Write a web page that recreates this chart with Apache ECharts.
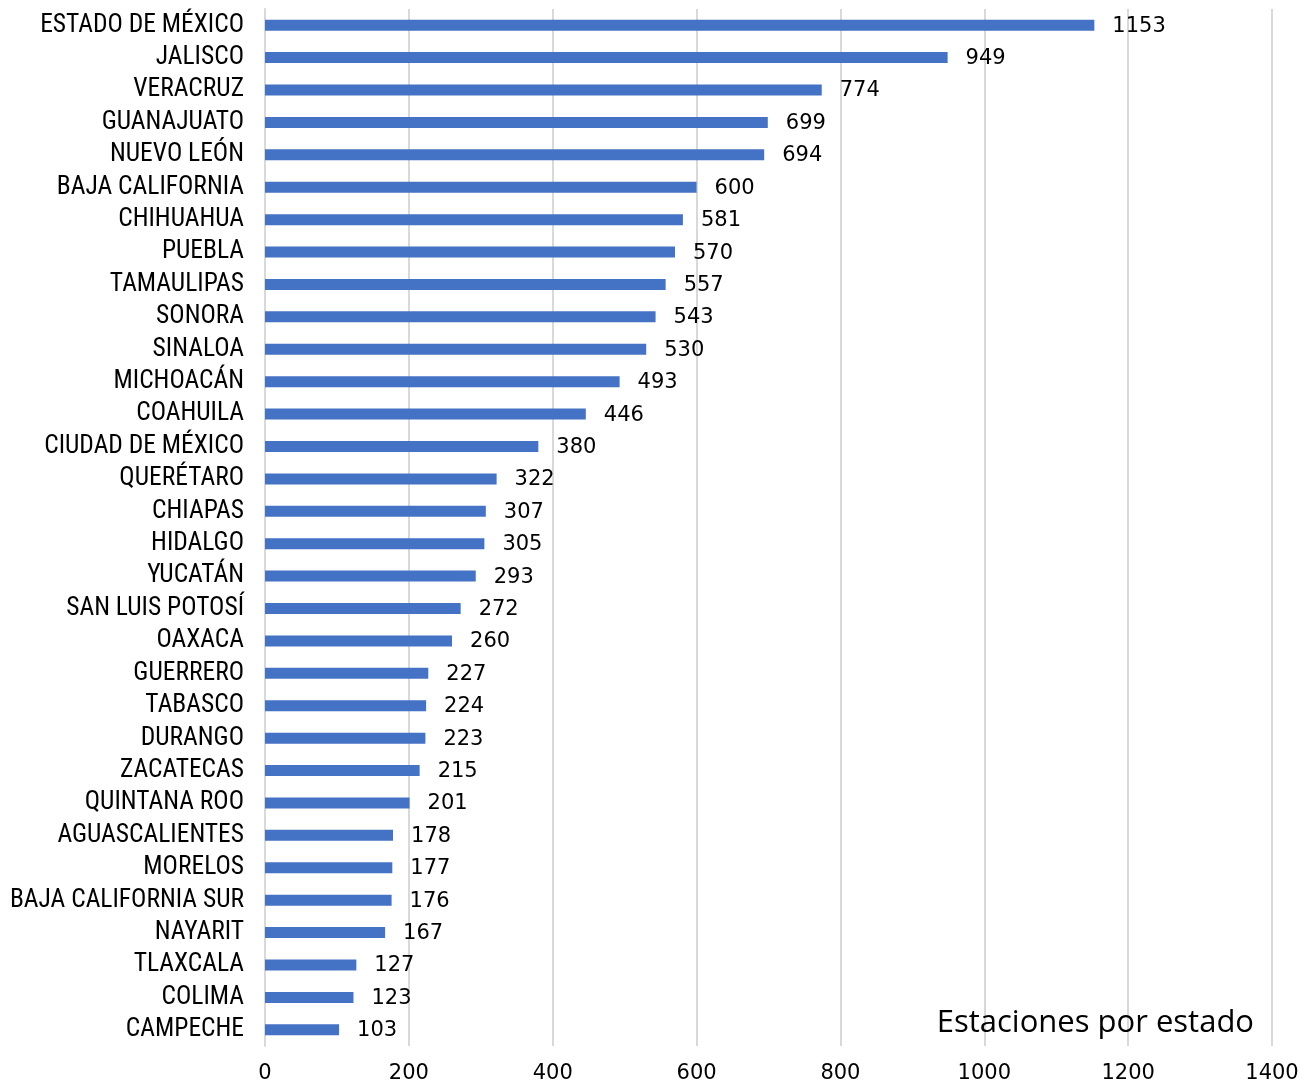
<!DOCTYPE html>
<html><head><meta charset="utf-8">
<script src="https://cdn.jsdelivr.net/npm/echarts@6/dist/echarts.min.js"></script>
<style>html,body{margin:0;padding:0;background:#fff}#c{width:1304px;height:1084px}</style>
</head><body><div id="c"></div>
<script>
const categories = ["ESTADO DE MÉXICO","JALISCO","VERACRUZ","GUANAJUATO","NUEVO LEÓN","BAJA CALIFORNIA","CHIHUAHUA","PUEBLA","TAMAULIPAS","SONORA","SINALOA","MICHOACÁN","COAHUILA","CIUDAD DE MÉXICO","QUERÉTARO","CHIAPAS","HIDALGO","YUCATÁN","SAN LUIS POTOSÍ","OAXACA","GUERRERO","TABASCO","DURANGO","ZACATECAS","QUINTANA ROO","AGUASCALIENTES","MORELOS","BAJA CALIFORNIA SUR","NAYARIT","TLAXCALA","COLIMA","CAMPECHE"];
const values = [1153,949,774,699,694,600,581,570,557,543,530,493,446,380,322,307,305,293,272,260,227,224,223,215,201,178,177,176,167,127,123,103];
const titleText = "Estaciones por estado";
const numFont = "'DejaVu Sans', sans-serif";
const catFont = "'Liberation Sans Narrow', 'Roboto Condensed', serif";
const chart = echarts.init(document.getElementById('c'));
chart.setOption({
  animation:false,
  title:{text:titleText,right:45,bottom:40,textStyle:{fontFamily:"'Open Sans', sans-serif",fontWeight:400,fontSize:31,color:'#000'}},
  grid:{left:265,right:32,top:9,bottom:38,containLabel:false},
  xAxis:{type:'value',min:0,max:1400,interval:200,
    axisLine:{show:false},axisTick:{show:false},
    splitLine:{lineStyle:{color:'#d9d9d9',width:2}},
    axisLabel:{fontFamily:numFont,fontSize:21,color:'#000',margin:17,formatter:v=>String(v)}},
  yAxis:{type:'category',data:categories,inverse:true,
    axisLine:{show:true,lineStyle:{color:'#d9d9d9',width:2}},axisTick:{show:false},
    axisLabel:{fontFamily:catFont,fontSize:25.5,color:'#000',margin:21,interval:0,padding:[5,0,0,0]}},
  series:[{type:'bar',data:values,barWidth:11,itemStyle:{color:'#4472C4'},
    label:{show:true,position:'right',distance:18,fontFamily:numFont,fontSize:21,color:'#000',offset:[0,1]}}]
});
</script></body></html>
